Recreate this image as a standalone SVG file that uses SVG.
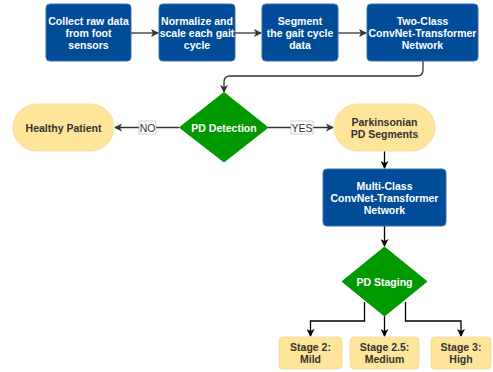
<svg xmlns="http://www.w3.org/2000/svg" width="493" height="372" viewBox="0 0 493 372">
<defs>
<style>
.box{fill:#004C99;stroke:#3A6FA8;stroke-width:1}
.dia{fill:#009900;stroke:#009900;stroke-width:1;stroke-linejoin:round}
.yel{fill:#FFE599;stroke:#F0DFA8;stroke-width:1}
.wt{font-family:"Liberation Sans",Arial,sans-serif;font-size:10.5px;font-weight:bold;fill:#ffffff;text-anchor:middle}
.dt{font-family:"Liberation Sans",Arial,sans-serif;font-size:10.5px;font-weight:bold;fill:#333333;text-anchor:middle}
.lt{font-family:"Liberation Sans",Arial,sans-serif;font-size:10.5px;fill:#333333;text-anchor:middle}
.ln{fill:none;stroke:#333333;stroke-width:1.3}
.lnb{fill:none;stroke:#000000;stroke-width:1.3}
</style>
<marker id="ah" markerWidth="8" markerHeight="8" refX="7" refY="4" orient="auto" markerUnits="userSpaceOnUse">
<path d="M0,0 L8,4 L0,8 L2,4 Z" fill="#333333"/>
</marker>
<marker id="ahb" markerWidth="8" markerHeight="8" refX="7" refY="4" orient="auto" markerUnits="userSpaceOnUse">
<path d="M0,0 L8,4 L0,8 L2,4 Z" fill="#000000"/>
</marker>
</defs>
<rect width="493" height="372" fill="#ffffff"/>
<g id="connectors">
<path class="ln" d="M131,33 L158,33" marker-end="url(#ah)"/>
<path class="ln" d="M235,33 L261,33" marker-end="url(#ah)"/>
<path class="ln" d="M338,33 L366,33" marker-end="url(#ah)"/>
<path class="ln" d="M423,61 L423,70 Q423,76 417,76 L230,76 Q224,76 224,82 L224,92" marker-end="url(#ah)"/>
<path class="ln" d="M179,127.5 L115,127.5" marker-end="url(#ah)"/>
<rect x="139" y="121" width="17" height="13" fill="#ffffff" stroke="#bbbbbb" stroke-width="0.7"/>
<text class="lt" x="147.5" y="131.5">NO</text>
<path class="ln" d="M268,127.5 L333,127.5" marker-end="url(#ah)"/>
<rect x="291" y="121" width="22" height="13" fill="#ffffff" stroke="#bbbbbb" stroke-width="0.7"/>
<text class="lt" x="302" y="131.5">YES</text>
<path class="lnb" d="M384.5,151 L384.5,168" marker-end="url(#ahb)"/>
<path class="lnb" d="M384.5,226 L384.5,246" marker-end="url(#ahb)"/>
<path class="lnb" d="M364.5,302 L364.5,321 L310.5,321 L310.5,336" marker-end="url(#ahb)"/>
<path class="lnb" d="M384.5,316 L384.5,336" marker-end="url(#ahb)"/>
<path class="lnb" d="M405.5,302 L405.5,321 L461,321 L461,336" marker-end="url(#ahb)"/>
</g>
<g id="n1"><rect class="box" x="46" y="4" width="85" height="57" rx="4"/>
<text class="wt" x="88.5" y="25">Collect raw data</text><text class="wt" x="88.5" y="37">from foot</text><text class="wt" x="88.5" y="49">sensors</text></g>
<g id="n2"><rect class="box" x="159" y="4" width="76" height="57" rx="4"/>
<text class="wt" x="197" y="25">Normalize and</text><text class="wt" x="197" y="37">scale each gait</text><text class="wt" x="197" y="49">cycle</text></g>
<g id="n3"><rect class="box" x="262" y="4" width="76" height="57" rx="4"/>
<text class="wt" x="300" y="25">Segment</text><text class="wt" x="300" y="37">the gait cycle</text><text class="wt" x="300" y="49">data</text></g>
<g id="n4"><rect class="box" x="367" y="4" width="111" height="57" rx="4"/>
<text class="wt" x="422.5" y="25">Two-Class</text><text class="wt" x="422.5" y="37">ConvNet-Transformer</text><text class="wt" x="422.5" y="49">Network</text></g>
<g id="n5"><path class="dia" d="M224,92.5 L268,127.5 L224,162 L179.5,127.5 Z"/>
<text class="wt" x="224" y="131.5">PD Detection</text></g>
<g id="n6"><rect class="yel" x="13" y="104" width="101" height="47" rx="23.5"/>
<text class="dt" x="63.5" y="131.5">Healthy Patient</text></g>
<g id="n7"><rect class="yel" x="334" y="104" width="101" height="47" rx="23.5"/>
<text class="dt" x="384.5" y="125.5">Parkinsonian</text><text class="dt" x="384.5" y="137.5">PD Segments</text></g>
<g id="n8"><rect class="box" x="323" y="169" width="123" height="57" rx="4"/>
<text class="wt" x="384.5" y="190">Multi-Class</text><text class="wt" x="384.5" y="202">ConvNet-Transformer</text><text class="wt" x="384.5" y="214">Network</text></g>
<g id="n9"><path class="dia" d="M384.5,247 L427,281.5 L384.5,316 L342,281.5 Z"/>
<text class="wt" x="384.5" y="285.5">PD Staging</text></g>
<g id="n10"><rect class="yel" x="279" y="337" width="63" height="32" rx="4"/>
<text class="dt" x="310.5" y="350.5">Stage 2:</text><text class="dt" x="310.5" y="363">Mild</text></g>
<g id="n11"><rect class="yel" x="350" y="337" width="69" height="32" rx="4"/>
<text class="dt" x="384.5" y="350.5">Stage 2.5:</text><text class="dt" x="384.5" y="363">Medium</text></g>
<g id="n12"><rect class="yel" x="431" y="337" width="60" height="32" rx="4"/>
<text class="dt" x="461" y="350.5">Stage 3:</text><text class="dt" x="461" y="363">High</text></g>
</svg>
